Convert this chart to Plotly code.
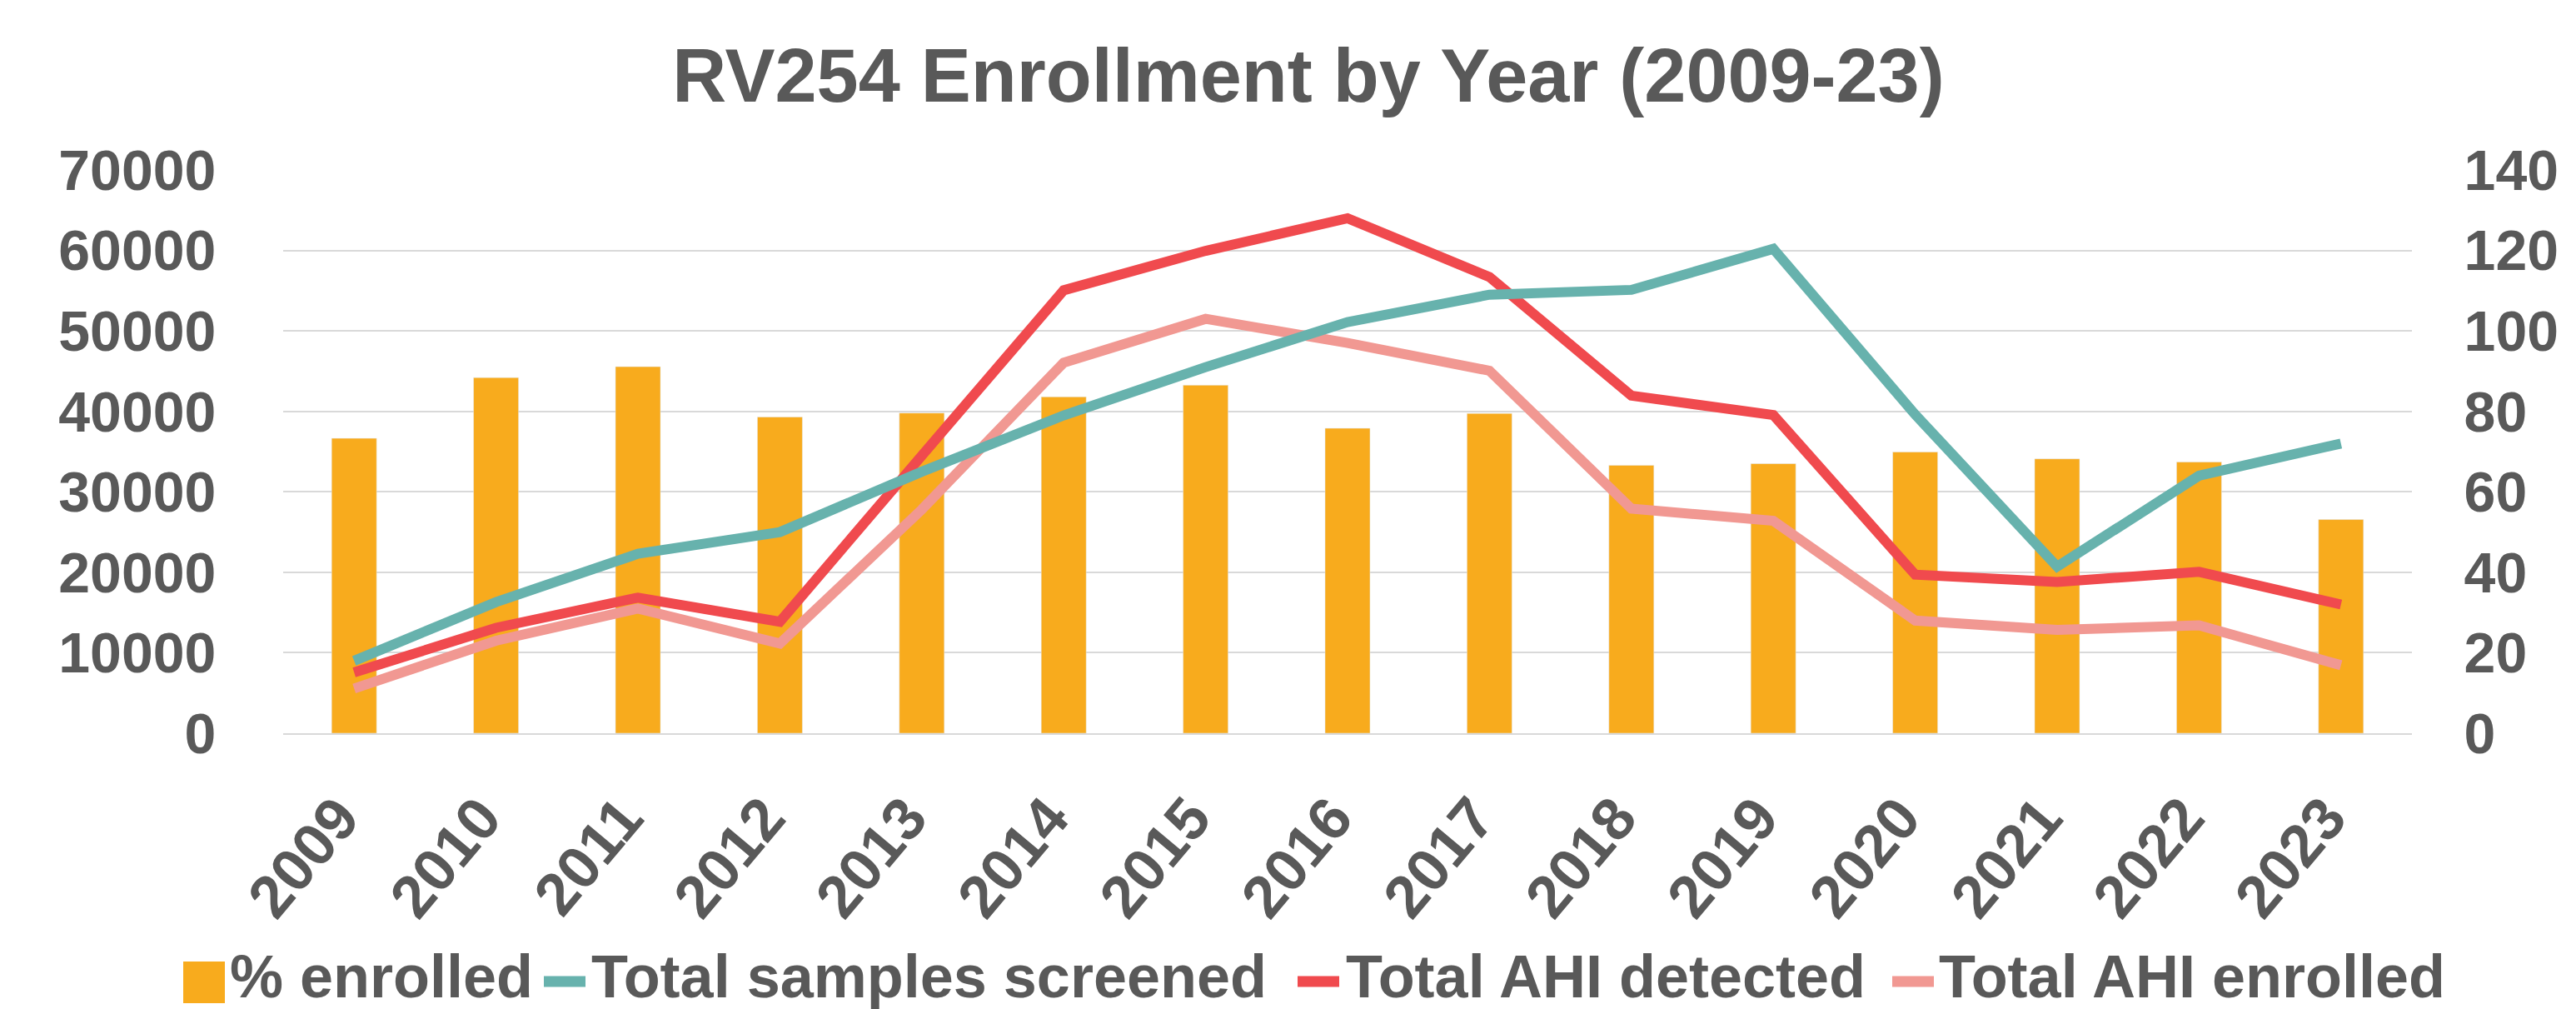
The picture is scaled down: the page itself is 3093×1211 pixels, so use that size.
import plotly.graph_objects as go

years = ["2009", "2010", "2011", "2012", "2013", "2014", "2015", "2016",
         "2017", "2018", "2019", "2020", "2021", "2022", "2023"]
pct_enrolled = [73.3, 88.4, 91.1, 78.6, 79.6, 83.6, 86.5, 75.8, 79.5, 66.6, 67.0, 69.9, 68.2, 67.4, 53.1]
samples_screened = [9000, 16300, 22300, 25000, 32500, 39500, 45500, 51100, 54500, 55100, 60200, 39600, 20700, 32000, 36000]
ahi_detected = [15.1, 26.2, 33.7, 27.7, 69.0, 110.1, 119.9, 128.0, 113.4, 83.9, 79.1, 39.4, 37.6, 40.1, 32.0]
ahi_enrolled = [11.1, 23.0, 31.0, 22.3, 55.6, 92.1, 103.0, 97.0, 90.1, 55.8, 52.8, 28.0, 25.7, 26.8, 16.9]

legend_labels = ["% enrolled", "Total samples screened", "Total AHI detected", "Total AHI enrolled"]

ORANGE = "#F8AB1D"
TEAL = "#67B2AD"
RED = "#F04A4E"
PINK = "#F19892"
GRAY = "#595959"
GRID = "#D9D9D9"
FONT = "Liberation Sans, Arial, sans-serif"

W, H = 3093, 1211
L, R, T, B = 332, 2888, 196, 872

fig = go.Figure()
fig.add_trace(go.Bar(x=years, y=pct_enrolled, name=legend_labels[0], marker_color=ORANGE,
                     yaxis="y"))
fig.add_trace(go.Scatter(x=years, y=ahi_detected, name=legend_labels[2], mode="lines",
                         line=dict(color=RED, width=12), yaxis="y"))
fig.add_trace(go.Scatter(x=years, y=ahi_enrolled, name=legend_labels[3], mode="lines",
                         line=dict(color=PINK, width=12), yaxis="y"))
fig.add_trace(go.Scatter(x=years, y=samples_screened, name=legend_labels[1], mode="lines",
                         line=dict(color=TEAL, width=12), yaxis="y2"))

ytickfont = dict(family=FONT, size=68, color=GRAY, weight="bold")
xtickfont = dict(family=FONT, size=72, color=GRAY, weight="bold")


def px_to_paper_x(px):
    return (px - L) / (R - L)


def px_to_paper_y(py):
    return (B - py) / (B - T)


# manual legend (kept fully inside the page)
leg_y = 1170
shapes = [
    dict(type="rect", xref="paper", yref="paper",
         x0=px_to_paper_x(212), x1=px_to_paper_x(262),
         y0=px_to_paper_y(1146), y1=px_to_paper_y(1196),
         fillcolor=ORANGE, line=dict(width=0)),
]
for (x0, x1, c) in [(645, 695, TEAL), (1550, 1600, RED), (2264, 2314, PINK)]:
    shapes.append(dict(type="line", xref="paper", yref="paper",
                       x0=px_to_paper_x(x0), x1=px_to_paper_x(x1),
                       y0=px_to_paper_y(leg_y), y1=px_to_paper_y(leg_y),
                       line=dict(color=c, width=13)))
annotations = []
for (tx, label) in [(266, legend_labels[0]), (700, legend_labels[1]),
                    (1606, legend_labels[2]), (2318, legend_labels[3])]:
    annotations.append(dict(text=label, xref="paper", yref="paper",
                            x=px_to_paper_x(tx), y=px_to_paper_y(1164),
                            xanchor="left", yanchor="middle", showarrow=False,
                            font=dict(family=FONT, size=72, color=GRAY, weight="bold")))

fig.update_layout(
    width=W, height=H,
    margin=dict(l=L, r=W - R, t=T, b=H - B, autoexpand=False),
    paper_bgcolor="white", plot_bgcolor="white",
    showlegend=False,
    bargap=0.683,
    title=dict(text="RV254 Enrollment by Year (2009-23)", x=0.5053, xanchor="center",
               y=1 - 82 / H, yanchor="middle", yref="container",
               font=dict(family=FONT, size=90, color=GRAY, weight="bold")),
    xaxis=dict(type="category", tickangle=-50, tickfont=xtickfont, showgrid=False,
               showline=True, linecolor=GRID, linewidth=2, ticks="",
               ticklabelstandoff=28, ticklabelshift=-18),
    yaxis=dict(range=[0, 140], dtick=20, side="right", tickfont=ytickfont,
               showgrid=True, gridcolor=GRID, gridwidth=2, zeroline=False,
               ticks="outside", ticklen=48, tickcolor="rgba(0,0,0,0)", showline=False),
    yaxis2=dict(range=[0, 70000], dtick=10000, side="left", overlaying="y",
                tickfont=ytickfont, tickformat="d", showgrid=False, zeroline=False,
                ticks="outside", ticklen=66, tickcolor="rgba(0,0,0,0)", showline=False),
    shapes=shapes,
    annotations=annotations,
)

fig.write_html("out.html")
